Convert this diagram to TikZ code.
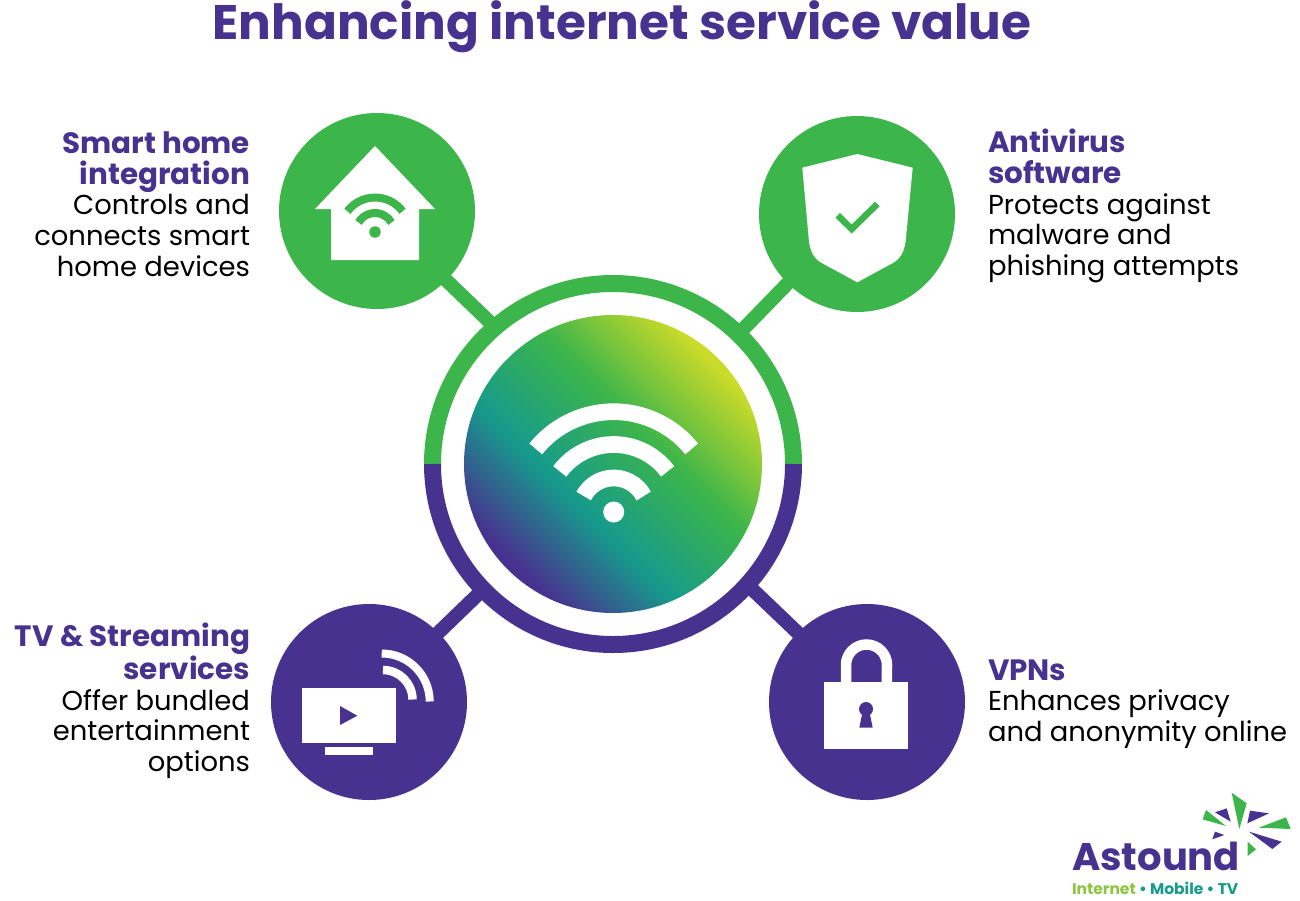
\documentclass[tikz,border=0pt]{standalone}
\usepackage{fontspec}
\setmainfont{Poppins}
\definecolor{brandgreen}{HTML}{3CB54A}
\definecolor{brandpurple}{HTML}{47328F}
\definecolor{brandteal}{HTML}{169B8C}
\definecolor{brandlime}{HTML}{CBDB2A}
\definecolor{logolime}{HTML}{8CC63F}
\pgfdeclareverticalshading{hubgrad}{100bp}{color(0bp)=(brandpurple); color(26.5bp)=(brandpurple); color(41bp)=(brandteal); color(57.5bp)=(brandgreen); color(74bp)=(brandlime); color(100bp)=(brandlime)}
\newcommand{\hd}[1]{\textcolor{brandpurple}{\fontsize{29.4}{30.7}\selectfont\textbf{#1}}}

\begin{document}
\begin{tikzpicture}[x=1pt,y=-1pt,
    every node/.style={inner sep=0pt,outer sep=0pt},
    disc/.style={circle,minimum size=196pt},
    link/.style={line width=14pt,shorten <=-3pt,shorten >=-3pt},
    label/.style={font=\fontsize{27.4}{30.7}\selectfont,text=black},
    icon/.style={fill=white},
    ]
    \useasboundingbox (0,0) rectangle (1300,900);

    \node[font=\fontsize{48.5}{52}\selectfont\bfseries,text=brandpurple] (title) at (622,26.5) {Enhancing internet service value};

    \node[disc,fill=brandgreen] (home) at (377,211) {};
    \node[disc,fill=brandgreen] (shield) at (857,214) {};
    \node[disc,fill=brandpurple] (tv) at (369,702) {};
    \node[disc,fill=brandpurple] (lock) at (867,702) {};
    \node[circle,minimum size=378pt] (hub) at (613,464) {};
    \node[circle,minimum size=298pt,shading=hubgrad,shading angle=-45] (core) at (hub) {};

    \draw[link,brandgreen] (home.-45) -- (hub.131);
    \draw[link,brandgreen] (shield.-135) -- (hub.46);
    \draw[link,brandpurple] (tv.45) -- (hub.224);
    \draw[link,brandpurple] (lock.135) -- (hub.-42);

    % ring
    \draw[line width=17pt,brandgreen] (613,464) ++(180:180.5pt) arc[start angle=180,end angle=0,radius=180.5pt];
    \draw[line width=17pt,brandpurple] (613,464) ++(180:180.5pt) arc[start angle=180,end angle=360,radius=180.5pt];

    % big wifi
    \node[circle,fill=white,minimum size=21pt] (coredot) at (613.7,512) {};
    \foreach \r/\a in {100.3/39,67.5/37,34/28}{
        \draw[white,line width=16.7pt] (coredot) ++(180-\a:\r pt) arc[start angle=180-\a,end angle=\a,radius=\r pt];
    }

    % house
    \fill[icon] (375,146) -- (435,209) -- (419,209) -- (419,260) -- (331,260) -- (331,209) -- (315,209) -- cycle;
    \node[circle,fill=brandgreen,minimum size=11.5pt] (homedot) at (375,232) {};
    \foreach \r/\a in {34.5/37,19/30}{
        \draw[brandgreen,line width=8pt] (homedot) ++(180-\a:\r pt) arc[start angle=180-\a,end angle=\a,radius=\r pt];
    }

    % shield
    \fill[icon] (857.3,154) -- (912.7,167.7) -- (905.6,241.7) .. controls (904,252) and (900.5,258) .. (894.6,262) -- (857.3,282.3) -- (820,262) .. controls (814,258) and (810.5,252) .. (809,241.7) -- (802.3,167.7) -- cycle;
    \draw[brandgreen,line width=6.5pt] (837.7,215.3) -- (851.7,229) -- (877.3,204);

    % tv
    \fill[icon] (302.3,687.7) rectangle (395.7,742.7);
    \fill[icon] (325,747.3) rectangle (372.7,755);
    \fill[brandpurple] (340,706) -- (357.3,715.7) -- (340,725) -- cycle;
    \draw[white,line width=8pt] (381.7,653.5) arc[start angle=90,end angle=0,radius=48pt];
    \draw[white,line width=8.5pt] (383,670) arc[start angle=90,end angle=0,radius=29.5pt];

    % lock
    \draw[white,line width=10.5pt] (846,682) -- (846,665) arc[start angle=180,end angle=0,radius=20.5pt] -- (886.8,682);
    \fill[icon] (824.3,681.7) rectangle (908.3,749);
    \fill[brandpurple] (866,709) circle[radius=7pt];
    \fill[brandpurple] (862.5,712) -- (869.5,712) -- (872.7,727.7) -- (859.3,727.7) -- cycle;

    \node[label,align=right,anchor=east] (homelabel) at (250,204) {\hd{Smart home}\\\hd{integration}\\Controls and\\connects smart\\home devices};
    \node[label,align=left,anchor=west] (shieldlabel) at (988,206) {\hd{Antivirus}\\\hd{software}\\Protects against\\malware and\\phishing attempts};
    \node[label,align=right,anchor=east] (tvlabel) at (250,701) {\hd{TV \& Streaming}\\\hd{services}\\Offer bundled\\entertainment\\options};
    \node[label,align=left,anchor=west] (locklabel) at (988,704) {\hd{VPNs}\\Enhances privacy\\and anonymity online};

    % logo
    \begin{scope}[shift={(1050,780)},x=0.3333pt,y=-0.3333pt]
        \foreach \c/\pts in {brandgreen/{(545,38) -- (590,70) -- (568,147)},
            brandpurple/{(495,97) -- (530,85) -- (542,125)},
            brandgreen/{(458,118) -- (468,90) -- (528,138)},
            brandpurple/{(600,92) -- (657,100) -- (592,130)},
            brandgreen/{(708,112) -- (722,147) -- (627,143)},
            brandpurple/{(495,155) -- (523,165) -- (487,178)},
            brandpurple/{(597,155) -- (695,185) -- (667,207)},
            brandgreen/{(593,185) -- (618,208) -- (593,228)}}{
            \fill[\c] \pts -- cycle;
        }
    \end{scope}
    \node[font=\fontsize{38.5}{42}\selectfont\bfseries,text=brandpurple,anchor=base west] (logo) at (1072,870) {Astound};
    \node[font=\fontsize{15.5}{18}\selectfont\bfseries,anchor=base west] (tagline) at (1072,894) {\textcolor{logolime}{Internet} \textcolor{brandteal}{• Mobile • TV}};
\end{tikzpicture}
\end{document}
